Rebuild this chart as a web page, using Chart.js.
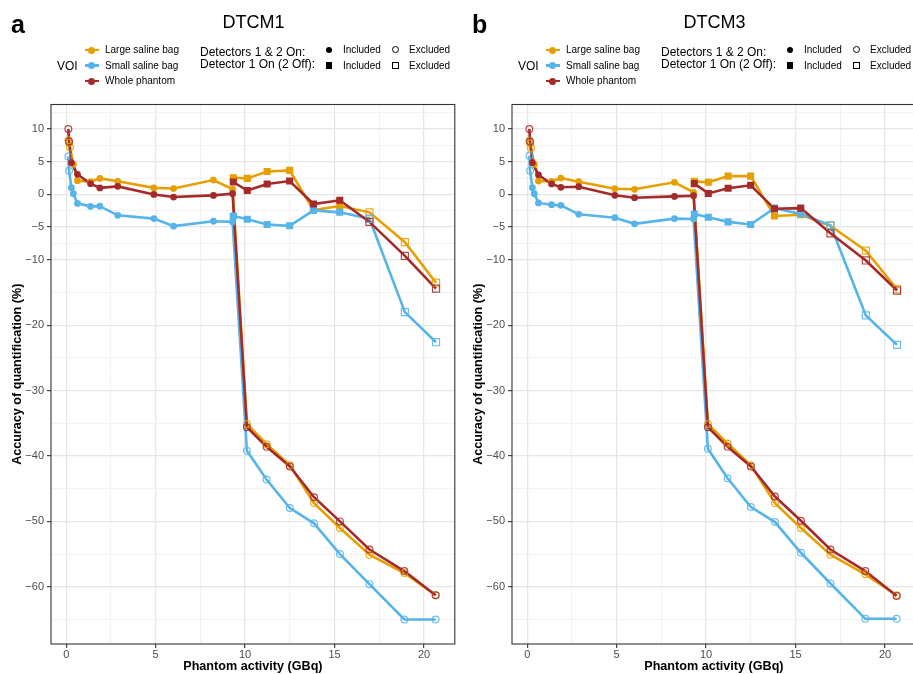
<!DOCTYPE html>
<html>
<head>
<meta charset="utf-8">
<script src="https://cdn.jsdelivr.net/npm/chart.js@4.4.1/dist/chart.umd.min.js"></script>
<style>
  body { margin:0; width:913px; height:674px; overflow:hidden; background:#fff; position:relative;
         font-family:"Liberation Sans", Arial, Helvetica, sans-serif; color:#000; }
  .panel { position:absolute; top:0; width:462px; height:674px; }
  .panel canvas { position:absolute; left:0; top:0; }
  .abs { position:absolute; white-space:nowrap; }
  .tag { left:11px; top:9px; font-size:25px; font-weight:bold; line-height:30px; }
  .ttl { left:193.5px; width:120px; text-align:center; top:11px; font-size:18px; line-height:22px; }
  .t10 { font-size:10px; line-height:12px; height:12px; }
  .t12 { font-size:12px; line-height:14px; height:14px; }
  .kline { position:absolute; height:2.6px; width:14px; }
  .kdot { position:absolute; width:7px; height:7px; border-radius:50%; }
  .sym { position:absolute; box-sizing:border-box; }
</style>
</head>
<body>
<div class="panel" id="panelA"><canvas id="chartA" width="461" height="674"></canvas></div>
<div class="panel" id="panelB" style="left:461px"><canvas id="chartB" width="461" height="674"></canvas></div>
<script>
// === data ===
const voiNames = ['Large saline bag', 'Small saline bag', 'Whole phantom'];
const xMajorTicks = [0, 5, 10, 15, 20];
const yMajorTicks = [10, 5, 0, -5, -10, -20, -30, -40, -50, -60];

// Detectors 1 & 2 On (circles)
const circleX        = [0.12, 0.16, 0.21, 0.29, 0.4, 0.63, 1.36, 1.88, 2.88, 4.9, 6.0, 8.23, 9.3,
                        10.1, 11.2, 12.5, 13.85, 15.3, 16.95, 18.9, 20.65];
const circleIncluded = [false, false, false, true, true, true, true, true, true, true, true, true, true,
                        false, false, false, false, false, false, false, false];
// Detector 1 On (2 Off) (squares)
const squareX        = [9.34, 10.12, 11.23, 12.49, 13.82, 15.29, 16.95, 18.93, 20.67];
const squareIncluded = [true, true, true, true, true, true, false, false, false];

// DTCM1
const large1 = [8.3, 7.9, 7.2, null, 4.6, 2.1, 1.95, 2.45, 2.0, 1.0, 0.9, 2.2, 0.8,
                -35.1, -38.2, -41.4, -47.2, -51.0, -55.1, -57.9, -61.3];
const small1 = [5.8, 3.6, null, 1.03, 0.1, -1.37, -1.83, -1.8, -3.2, -3.7, -4.85, -4.1, -4.2,
                -39.2, -43.6, -47.95, -50.3, -55.0, -59.6, -65.0, -65.0];
const whole1 = [10.0, 8.1, null, 4.85, null, 3.07, 1.64, 1.0, 1.23, 0.0, -0.4, -0.15, 0.1,
                -35.6, -38.6, -41.6, -46.3, -50.0, -54.3, -57.6, -61.3];
const large1Sq = [2.55, 2.45, 3.5, 3.68, -2.4, -1.77, -2.74, -7.3, -13.5];
const small1Sq = [-3.3, -3.8, -4.6, -4.8, -2.44, -2.74, -3.72, -18.0, -22.6];
const whole1Sq = [1.9, 0.6, 1.6, 2.05, -1.47, -0.9, -4.2, -9.4, -14.4];

// DTCM3
const large3 = [8.2, 7.8, 7.1, null, 4.6, 2.05, 2.0, 2.5, 1.94, 0.87, 0.78, 1.85, 0.32,
                -35.1, -38.1, -41.4, -47.2, -51.0, -55.1, -58.1, -61.3];
const small3 = [5.9, 3.6, null, 1.02, 0.1, -1.3, -1.57, -1.67, -3.04, -3.56, -4.5, -3.7, -3.76,
                -38.9, -43.4, -47.8, -50.1, -54.8, -59.5, -64.9, -64.9];
const whole3 = [10.0, 8.1, null, 4.85, null, 3.0, 1.6, 1.09, 1.18, -0.14, -0.5, -0.3, -0.2,
                -35.6, -38.6, -41.6, -46.2, -49.9, -54.3, -57.6, -61.4];
const large3Sq = [2.0, 1.85, 2.8, 2.8, -3.3, -3.1, -4.8, -8.6, -14.5];
const small3Sq = [-3.0, -3.5, -4.2, -4.6, -2.1, -3.0, -4.7, -18.5, -23.0];
const whole3Sq = [1.65, 0.15, 0.95, 1.4, -2.2, -2.1, -5.95, -10.1, -14.7];

const colors = ['#E69F00', '#56B4E9', '#A52A2A'];
const openAlpha = ['rgba(230,159,0,0.85)', 'rgba(86,180,233,0.85)', 'rgba(165,42,42,0.85)'];

// === helpers ===
// ggplot-style minor breaks: midpoints between majors (plus one step beyond each end)
function withMinor(majors, min, max) {
  const b = majors.slice().sort((a, c) => a - c);
  const ext = [b[0] - (b[1] - b[0]), ...b, b[b.length - 1] + (b[b.length - 1] - b[b.length - 2])];
  const minors = [];
  for (let i = 0; i < ext.length - 1; i++) minors.push((ext[i] + ext[i + 1]) / 2);
  return [...b, ...minors].filter(v => v >= min && v <= max).sort((a, c) => a - c);
}

function toPoints(xs, ys, inc) {
  const out = [];
  xs.forEach((x, i) => { if (ys[i] !== null) out.push({ x, y: ys[i], inc: inc[i] }); });
  return out;
}

const X_MIN = -0.85, X_MAX = 21.72, Y_MIN = -68.75, Y_MAX = 13.75;
const xGrid = withMinor(xMajorTicks, X_MIN, X_MAX);
const yGrid = withMinor(yMajorTicks, Y_MIN, Y_MAX);

const panelBorder = {
  id: 'panelBorder',
  afterDatasetsDraw(chart) {
    const { ctx, chartArea: a } = chart;
    ctx.save();
    ctx.strokeStyle = '#333';
    ctx.lineWidth = 1.1;
    ctx.strokeRect(a.left, a.top, a.right - a.left, a.bottom - a.top);
    ctx.restore();
  }
};

function gridOpts(majors) {
  const isMajor = c => c.tick && majors.includes(c.tick.value);
  return {
    color: c => isMajor(c) ? '#e6e6e6' : '#f0f0f0',
    lineWidth: c => isMajor(c) ? 1.3 : 0.9,
    tickLength: 4,
    tickColor: c => isMajor(c) ? '#333' : 'rgba(0,0,0,0)',
    tickWidth: 1.1
  };
}

function buildChart(canvasId, circleSets, squareSets) {
  const lineSets = [], pointSets = [];
  // draw order: lines under points; Large, Small, then Whole on top
  circleSets.forEach((ys, k) => {
    const pts = toPoints(circleX, ys, circleIncluded);
    const sq = toPoints(squareX, squareSets[k], squareIncluded);
    [pts, sq].forEach(data => lineSets.push({
      data, borderColor: colors[k], borderWidth: 2.6, pointRadius: 0, fill: false,
      tension: 0, order: 10 - k
    }));
    pointSets.push({
      data: pts, showLine: false, pointStyle: 'circle',
      pointRadius: 3.4,
      pointBackgroundColor: pts.map(p => p.inc ? colors[k] : 'rgba(0,0,0,0)'),
      pointBorderColor: pts.map(p => p.inc ? colors[k] : openAlpha[k]),
      pointBorderWidth: pts.map(p => p.inc ? 0 : 1.2),
      order: 4 - k
    });
    pointSets.push({
      data: sq, showLine: false, pointStyle: 'rect',
      pointRadius: 5,
      pointBackgroundColor: sq.map(p => p.inc ? colors[k] : 'rgba(0,0,0,0)'),
      pointBorderColor: sq.map(p => p.inc ? colors[k] : openAlpha[k]),
      pointBorderWidth: sq.map(p => p.inc ? 0 : 1.2),
      order: 4 - k
    });
  });

  new Chart(document.getElementById(canvasId), {
    type: 'line',
    data: { datasets: [...pointSets, ...lineSets] },
    options: {
      responsive: false,
      animation: false,
      events: [],
      layout: { padding: { left: 0, right: 5, top: 104.5, bottom: 0 } },
      plugins: { legend: { display: false }, tooltip: { enabled: false } },
      scales: {
        x: {
          type: 'linear', min: X_MIN, max: X_MAX,
          afterBuildTicks: s => { s.ticks = xGrid.map(v => ({ value: v })); },
          afterFit: s => { s.height = 30; },
          ticks: {
            autoSkip: false, maxRotation: 0, minRotation: 0, padding: 0,
            color: '#4d4d4d', font: { size: 11, family: '"Liberation Sans", Arial' },
            callback: v => xMajorTicks.includes(v) ? String(v) : ''
          },
          grid: gridOpts(xMajorTicks),
          border: { display: false },
          title: {
            display: true, text: 'Phantom activity (GBq)', color: '#000',
            font: { size: 12.6, weight: 'bold', family: '"Liberation Sans", Arial' },
            padding: { top: 0, bottom: 0 }
          }
        },
        y: {
          type: 'linear', min: Y_MIN, max: Y_MAX,
          afterBuildTicks: s => { s.ticks = yGrid.map(v => ({ value: v })); },
          afterFit: s => { s.width = 51; },
          ticks: {
            autoSkip: false, padding: 3,
            color: '#4d4d4d', font: { size: 11, family: '"Liberation Sans", Arial' },
            callback: v => yMajorTicks.includes(v) ? String(v).replace('-', '\u2212') : ''
          },
          grid: gridOpts(yMajorTicks),
          border: { display: false },
          title: {
            display: true, text: 'Accuracy of quantification (%)', color: '#000',
            font: { size: 12.6, weight: 'bold', family: '"Liberation Sans", Arial' },
            padding: { top: 9.5, bottom: 0 }
          }
        }
      }
    },
    plugins: [panelBorder]
  });
}

// === legend / titles (real text) ===
function addText(panel, text, cls, x, cy) {
  const d = document.createElement('div');
  d.className = 'abs ' + cls;
  d.textContent = text;
  const h = cls === 't12' ? 14 : 12;
  d.style.left = x + 'px';
  d.style.top = (cy - h / 2) + 'px';
  panel.appendChild(d);
}

function addSym(panel, cx, cy, size, round, filled) {
  const s = document.createElement('div');
  s.className = 'sym';
  Object.assign(s.style, {
    left: (cx - size / 2) + 'px', top: (cy - size / 2) + 'px',
    width: size + 'px', height: size + 'px',
    borderRadius: round ? '50%' : '0',
    background: filled ? '#000' : 'transparent',
    border: filled ? 'none' : '1px solid #000'
  });
  panel.appendChild(s);
}

function buildLegend(panelId, tag, title) {
  const p = document.getElementById(panelId);
  const t = document.createElement('div'); t.className = 'abs tag'; t.textContent = tag; p.appendChild(t);
  const h = document.createElement('div'); h.className = 'abs ttl'; h.textContent = title; p.appendChild(h);

  addText(p, 'VOI', 't12', 57, 66);
  const keyY = [50, 65.5, 81];
  voiNames.forEach((name, k) => {
    const l = document.createElement('div'); l.className = 'kline';
    Object.assign(l.style, { left: '84.5px', top: (keyY[k] - 1.3) + 'px', background: colors[k] });
    const d = document.createElement('div'); d.className = 'kdot';
    Object.assign(d.style, { left: '88px', top: (keyY[k] - 3.5) + 'px', background: colors[k] });
    p.appendChild(l); p.appendChild(d);
    addText(p, name, 't10', 105, keyY[k]);
  });

  addText(p, 'Detectors 1 & 2 On:', 't12', 200, 51.7);
  addText(p, 'Detector 1 On (2 Off):', 't12', 200, 64.2);
  addSym(p, 329, 49.8, 6, true, true);
  addText(p, 'Included', 't10', 343, 49.8);
  addSym(p, 395, 49.8, 7, true, false);
  addText(p, 'Excluded', 't10', 409, 49.8);
  addSym(p, 329, 65.6, 6.5, false, true);
  addText(p, 'Included', 't10', 343, 65.6);
  addSym(p, 395, 65.6, 7, false, false);
  addText(p, 'Excluded', 't10', 409, 65.6);
}

buildLegend('panelA', 'a', 'DTCM1');
buildLegend('panelB', 'b', 'DTCM3');
buildChart('chartA', [large1, small1, whole1], [large1Sq, small1Sq, whole1Sq]);
buildChart('chartB', [large3, small3, whole3], [large3Sq, small3Sq, whole3Sq]);
</script>
</body>
</html>
